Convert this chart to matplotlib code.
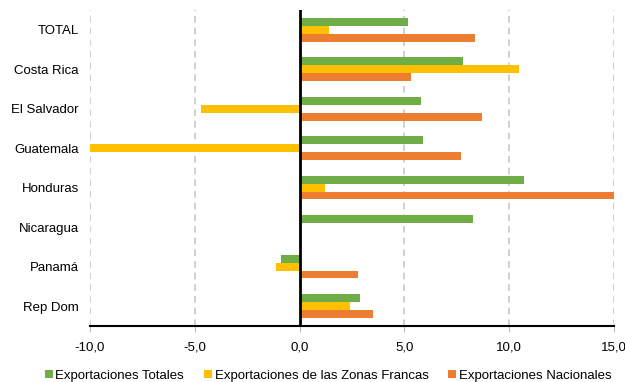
import matplotlib.pyplot as plt
import numpy as np

# Categories, top to bottom
paises = ['TOTAL', 'Costa Rica', 'El Salvador', 'Guatemala', 'Honduras',
          'Nicaragua', 'Panamá', 'Rep Dom']

# Growth values (%)
totales = [5.2, 7.8, 5.8, 5.9, 10.7, 8.3, -0.9, 2.9]
zonas_francas = [1.4, 10.5, -4.7, -10.0, 1.2, 0.0, -1.1, 2.4]
nacionales = [8.4, 5.3, 8.7, 7.7, 15.0, 0.0, 2.8, 3.5]

xticks = [-10, -5, 0, 5, 10, 15]


def main():
    plt.rcParams['font.family'] = ['Liberation Sans', 'DejaVu Sans']
    fig = plt.figure(figsize=(6.25, 3.82), dpi=100)
    ax = fig.add_axes([0.144, 0.147, 0.838, 0.827])

    y = np.arange(len(paises))
    h = 0.2
    ax.barh(y - h, totales, height=h, color='#70AD47',
            label='Exportaciones Totales', zorder=3)
    ax.barh(y, zonas_francas, height=h, color='#FFC000',
            label='Exportaciones de las Zonas Francas', zorder=3)
    ax.barh(y + h, nacionales, height=h, color='#ED7D31',
            label='Exportaciones Nacionales', zorder=3)

    ax.set_xlim(-10, 15)
    ax.set_ylim(len(paises) - 0.5, -0.5)
    ax.set_yticks(y)
    ax.set_yticklabels(paises, fontsize=9.5)
    ax.set_xticks(xticks)
    ax.xaxis.set_major_formatter(plt.FuncFormatter(
        lambda v, p: ('%.1f' % v).replace('.', ',')))
    ax.tick_params(axis='x', labelsize=9.5)

    # Grid and zero line
    for t in xticks:
        if t != 0:
            ax.axvline(t, color='#C8C8C8', linestyle=(0, (4, 3)),
                       linewidth=1.2, zorder=1)
    ax.axvline(0, color='black', linewidth=2, zorder=4)

    for s in ['top', 'right', 'left']:
        ax.spines[s].set_visible(False)
    ax.spines['bottom'].set_linewidth(1.5)
    ax.tick_params(axis='y', length=0, pad=8)
    ax.tick_params(axis='x', length=4, width=0.8, color='#BFBFBF', pad=7)

    fig.legend(*ax.get_legend_handles_labels(), loc='center',
               bbox_to_anchor=(0.525, 0.016), ncol=3,
               frameon=False, fontsize=9.5, handlelength=0.6,
               handleheight=0.6, handletextpad=0.2, columnspacing=1.5,
               borderpad=0.1)

    plt.savefig('out.png', dpi=100)


if __name__ == "__main__":
    main()
